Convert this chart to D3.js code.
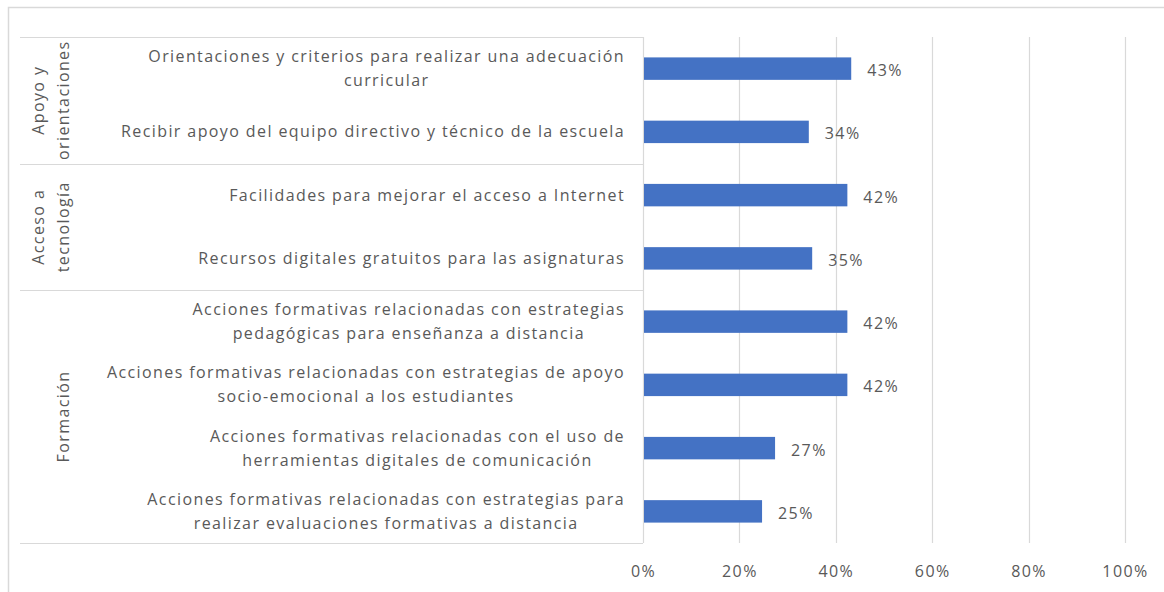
<!DOCTYPE html>
<html><head><meta charset="utf-8">
<script src="https://cdn.jsdelivr.net/npm/d3@7"></script>
<style>
body{margin:0;background:#fff;}
text{font-family:"Open Sans",sans-serif;fill:#595959;}
</style></head>
<body><svg id="c" width="1164" height="592"></svg>
<script>
const categories = [
  "Orientaciones y criterios para realizar una adecuación\ncurricular",
  "Recibir apoyo del equipo directivo y técnico de la escuela",
  "Facilidades para mejorar el acceso a Internet",
  "Recursos digitales gratuitos para las asignaturas",
  "Acciones formativas relacionadas con estrategias\npedagógicas para enseñanza a distancia",
  "Acciones formativas relacionadas con estrategias de apoyo\nsocio-emocional a los estudiantes",
  "Acciones formativas relacionadas con el uso de\nherramientas digitales de comunicación",
  "Acciones formativas relacionadas con estrategias para\nrealizar evaluaciones formativas a distancia"
];
const values = [0.432, 0.344, 0.424, 0.351, 0.424, 0.424, 0.274, 0.247];
const groups = ["Apoyo y\norientaciones", "Acceso a\ntecnología", "Formación"];
const groupSizes = [2, 2, 4];
const xTicks = [0, 0.2, 0.4, 0.6, 0.8, 1.0];

const svg = d3.select("#c");
const FS = 16, LS = 1.4;
const grid = "#d9d9d9";

// outer border
svg.append("rect").attr("x",8.5).attr("y",7.5).attr("width",1200).attr("height",700)
  .attr("fill","none").attr("stroke",grid).attr("stroke-width",1.5);

const x = d3.scaleLinear().domain([0,1]).range([643,1125]);
const y = d3.scaleBand().domain(categories).range([37,543]).paddingInner(0.645).paddingOuter(0.3225);

// gridlines
svg.append("g").selectAll("line").data(xTicks).join("line")
  .attr("x1",d=>Math.round(x(d))+0.5).attr("x2",d=>Math.round(x(d))+0.5)
  .attr("y1",37).attr("y2",543).attr("stroke",grid).attr("stroke-width",1.2);

// x axis tick labels
const xAxis = d3.axisBottom(x).tickValues(xTicks).tickFormat(d3.format(".0%")).tickSize(0).tickPadding(0);
const xg = svg.append("g").attr("transform","translate(0,566)").call(xAxis);
xg.select(".domain").remove();
xg.selectAll("text").attr("font-size",FS).attr("letter-spacing",LS).attr("dy","0.71em")
  .style("font-family","'Open Sans',sans-serif").attr("fill","#595959");

// group separators
const step = y.step();
let bounds = [37];
let acc = 0;
groupSizes.forEach(s=>{acc+=s; bounds.push(37+acc*step);});
svg.append("g").selectAll("line").data(bounds).join("line")
  .attr("x1",20).attr("x2",643).attr("y1",d=>Math.round(d)+0.5).attr("y2",d=>Math.round(d)+0.5)
  .attr("stroke",grid).attr("stroke-width",1.2);

// bars
svg.append("g").selectAll("rect").data(values).join("rect")
  .attr("x",x(0)+1).attr("y",(d,i)=>y(categories[i]))
  .attr("width",d=>x(d)-x(0)-1).attr("height",y.bandwidth())
  .attr("fill","#4472C4");

// value labels
svg.append("g").selectAll("text").data(values).join("text")
  .attr("x",d=>x(d)+16).attr("y",(d,i)=>y(categories[i])+y.bandwidth()/2+2)
  .attr("dy","0.35em").attr("font-size",FS).attr("letter-spacing",LS)
  .text(d=>d3.format(".0%")(d));

// category labels (centered lines, block right aligned)
const catG = svg.append("g");
categories.forEach((c,i)=>{
  const lines = c.split("\n");
  const cy = y(c)+y.bandwidth()/2;
  const g = catG.append("g");
  const lh = 24;
  const ts = lines.map((l,j)=>g.append("text").attr("font-size",FS).attr("letter-spacing",LS)
      .attr("text-anchor","middle").attr("dy","0.35em")
      .attr("y",cy+(j-(lines.length-1)/2)*lh).text(l));
  const w = d3.max(ts,t=>t.node().getComputedTextLength());
  ts.forEach(t=>t.attr("x",625-w/2));
});

// group labels (rotated)
let start = 0;
groups.forEach((gname,gi)=>{
  const y0 = 37+start*step, y1 = 37+(start+groupSizes[gi])*step;
  const cy = (y0+y1)/2;
  const lines = gname.split("\n");
  const xs = lines.length===2 ? [38,63] : [63];
  lines.forEach((l,j)=>{
    svg.append("text").attr("transform",`translate(${xs[j]},${cy}) rotate(-90)`)
      .attr("text-anchor","middle").attr("dy","0.35em").attr("font-size",FS).attr("letter-spacing",LS)
      .text(l);
  });
  start += groupSizes[gi];
});
</script></body></html>
